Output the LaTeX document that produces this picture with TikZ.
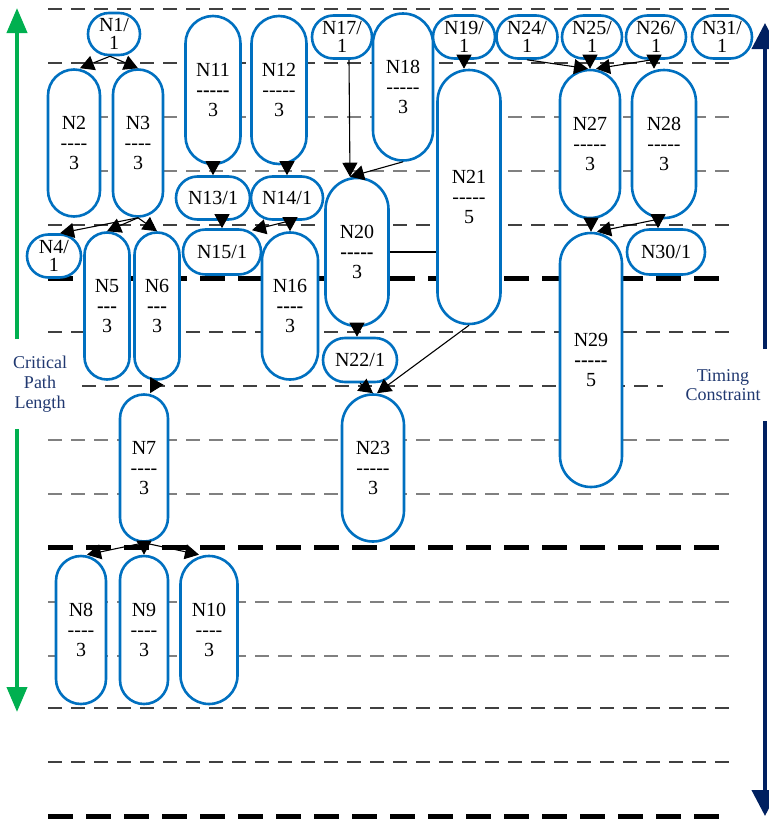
\documentclass[tikz,border=0pt]{standalone}
\usepackage{fontspec}
\setmainfont{Liberation Serif}
\usetikzlibrary{arrows.meta}

\definecolor{nodeblue}{RGB}{0,112,192}
\definecolor{cpgreen}{RGB}{0,176,80}
\definecolor{navyarrow}{RGB}{0,32,96}
\definecolor{labelnavy}{RGB}{32,56,112}
\definecolor{griddark}{RGB}{64,64,64}
\definecolor{gridgray}{RGB}{128,128,128}

\tikzset{
  task/.style n args={3}{draw=nodeblue, line width=1.3pt, fill=white,
    shape=rectangle, inner sep=0pt, align=center, text=black,
    minimum width={#1*0.5pt}, minimum height={#2*0.5pt},
    rounded corners={#3*0.5pt-0.01pt}},
  tall/.style 2 args={task={#1}{#2}{#1/2}, font=\fontsize{10}{10}\selectfont},
  short/.style 2 args={task={#1}{#2}{#2/2}, font=\fontsize{10}{9}\selectfont},
  arr/.style={-{Triangle[length=7pt,width=7.5pt]}, line width=0.55pt, black},
  thinline/.style={line width=1pt, dash pattern=on 7pt off 4.5pt},
  darkline/.style={thinline, draw=griddark},
  grayline/.style={thinline, draw=gridgray},
  thickline/.style={line width=2.5pt, draw=black, dash pattern=on 12.5pt off 6.5pt},
  sidelabel/.style={inner sep=0pt, align=center, text=labelnavy},
  greenarrow/.style={-{Triangle[length=12.5pt,width=10pt]}, line width=2pt, draw=cpgreen, fill=cpgreen},
  navyarrow/.style={-{Triangle[length=13pt,width=13pt]}, line width=2pt, draw=navyarrow, fill=navyarrow},
}

\newcommand{\hy}[1]{\foreach \k in {1,...,#1}{-}}
\newcommand{\bhy}[1]{\textbf{\foreach \k in {1,...,#1}{-}}}

\begin{document}
\begin{tikzpicture}[x=0.5pt, y=-0.5pt]
\useasboundingbox (0,0) rectangle (769,820);

% time-step grid
\foreach \y in {9,63,225,332,708,762} \draw[darkline] (48,\y) -- (731,\y);
\foreach \y in {117,171,440,494,602,656} \draw[grayline] (48,\y) -- (731,\y);
\draw[darkline] (82,386) -- (663,386);
\foreach \y in {278,547,816} \draw[thickline] (48,\y) -- (731,\y);

% tasks: name / duration
\node[short={52}{42}] (N1) at (114,34) {N1/\\1};
\node[tall={52}{147}] (N2) at (74,143) {N2\\\hy{4}\\3};
\node[tall={50}{147}] (N3) at (138,143) {N3\\\hy{4}\\3};
\node[short={54}{43}] (N4) at (54,256) {N4/\\1};
\node[tall={45}{147}] (N5) at (107,306) {N5\\\bhy{3}\\3};
\node[tall={45}{147}] (N6) at (157,306) {N6\\\bhy{3}\\3};
\node[tall={48}{147}] (N7) at (144,468) {N7\\\hy{4}\\3};
\node[tall={50}{148}] (N8) at (81,630) {N8\\\hy{4}\\3};
\node[tall={48}{148}] (N9) at (144,630) {N9\\\hy{4}\\3};
\node[tall={57}{148}] (N10) at (209,630) {N10\\\hy{4}\\3};
\node[tall={55}{148}] (N11) at (213,90) {N11\\\bhy{5}\\3};
\node[tall={55}{148}] (N12) at (279,90) {N12\\\hy{5}\\3};
\node[short={74}{43}] (N13) at (213,198) {N13/1};
\node[short={72}{43}] (N14) at (287,198) {N14/1};
\node[short={78}{45}] (N15) at (222,252) {N15/1};
\node[tall={56}{147}] (N16) at (290,306) {N16\\\bhy{4}\\3};
\node[short={60}{43}] (N17) at (342,37) {N17/\\1};
\node[tall={60}{147}] (N18) at (403,87) {N18\\\hy{5}\\3};
\node[short={62}{43}] (N19) at (464,37) {N19/\\1};
\node[tall={63}{148}] (N20) at (357,252) {N20\\\bhy{5}\\3};
\node[tall={63}{254}] (N21) at (469,197) {N21\\\hy{5}\\5};
\node[short={74}{44}] (N22) at (360,360) {N22/1};
\node[tall={62}{147}] (N23) at (373,468) {N23\\\hy{5}\\3};
\node[short={61}{43}] (N24) at (527,37) {N24/\\1};
\node[short={60}{43}] (N25) at (592,37) {N25/\\1};
\node[short={60}{43}] (N26) at (656,37) {N26/\\1};
\node[tall={60}{148}] (N27) at (590,144) {N27\\\hy{5}\\3};
\node[tall={64}{148}] (N28) at (664,144) {N28\\\hy{5}\\3};
\node[tall={62}{254}] (N29) at (591,360) {N29\\\bhy{5}\\5};
\node[short={78}{45}] (N30) at (666,252) {N30/1};
\node[short={60}{43}] (N31) at (722,37) {N31/\\1};

% dependencies
\draw[arr] ([xshift=-2pt]N1.south) -- ([xshift=3pt]N2.north);
\draw[arr] ([xshift=-2pt]N1.south) -- (N3.north);
\draw[arr] (N3.south) -- ([xshift=3pt]N4.north);
\draw[arr] (N3.south) -- (N5.north);
\draw[arr] (N3.south) -- (N6.north);
\draw[arr] (N6.south) -- ([xshift=3pt]N7.north);
\draw[arr] (N7.south) -- ([xshift=3pt]N8.north);
\draw[arr] (N7.south) -- (N9.north);
\draw[arr] (N7.south) -- ([xshift=-5pt]N10.north);
\draw[arr] (N11.south) -- (N13.north);
\draw[arr] (N14.north |- N12.south) -- (N14.north);
\draw[arr] (N15.north |- N13.south) -- (N15.north);
\draw[arr] (N16.north |- N14.south) -- ([xshift=15pt,yshift=-1pt]N15.north);
\draw[arr] (N16.north |- N14.south) -- (N16.north);
\draw[arr] ([xshift=3.5pt]N17.south) -- ([xshift=-3.5pt]N20.north);
\draw[arr] (N18.south) -- ([xshift=-3.5pt]N20.north);
\draw[arr] (N19.south) -- (N19.south |- N21.north);
\draw[arr] (N20.south) -- (N20.south |- N22.north);
\draw[line width=0.55pt] (N20.east) -- (N20.east -| N21.west);
\draw[arr] (N22.south) -- (N23.north);
\draw[arr] (N21.south) -- ([xshift=2pt]N23.north);
\draw[arr] (N24.south) -- ([xshift=-1pt]N27.north);
\draw[arr] (N27.north |- N25.south) -- (N27.north);
\draw[arr] ([xshift=-2pt]N26.south) -- ([xshift=3pt]N27.north);
\coordinate (s26) at ([xshift=-1pt]N26.south);
\draw[arr] (s26) -- (s26 |- N28.north);
\draw[arr] (N29.north |- N27.south) -- (N29.north);
\coordinate (s28) at ([xshift=-3pt]N28.south);
\draw[arr] (s28) -- ([xshift=3pt]N29.north);
\draw[arr] (s28) -- (s28 |- N30.north);

% critical path length (left) and timing constraint (right)
\node[sidelabel, font=\fontsize{9}{10}\selectfont, minimum height=44.5pt] (cpl) at (40,384) {Critical\\Path\\Length};
\coordinate (gtop) at (17,8);
\coordinate (gbot) at (17,712);
\draw[greenarrow] (cpl.north -| gtop) -- (gtop);
\draw[greenarrow] (cpl.south -| gbot) -- (gbot);

\node[sidelabel, font=\fontsize{9}{9.5}\selectfont, minimum height=35.5pt] (tc) at (723,385) {Timing\\Constraint};
\coordinate (ntop) at (765,23);
\coordinate (nbot) at (765,816);
\draw[navyarrow] (tc.north -| ntop) -- (ntop);
\draw[navyarrow] (tc.south -| nbot) -- (nbot);
\end{tikzpicture}
\end{document}
